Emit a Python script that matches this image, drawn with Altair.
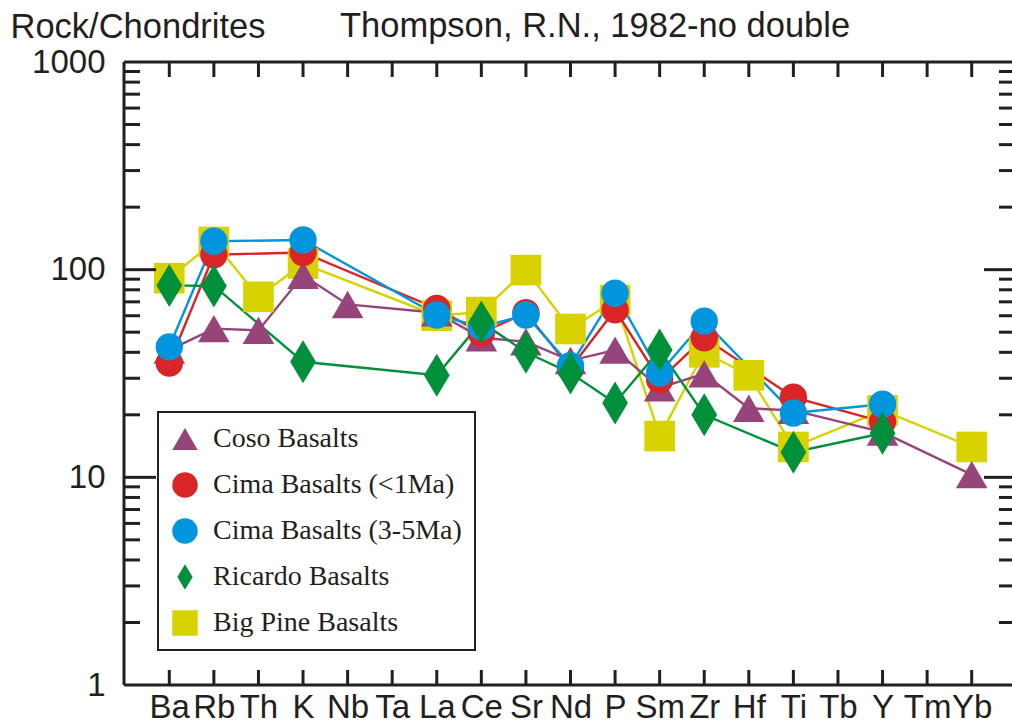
import altair as alt
import pandas as pd

# ---- data -------------------------------------------------------------
elements = ["Ba", "Rb", "Th", "K", "Nb", "Ta", "La", "Ce", "Sr", "Nd",
            "P", "Sm", "Zr", "Hf", "Ti", "Tb", "Y", "Tm", "Yb"]

coso = [41, 52, 51, 94, 68, None, 62, 47, 45, 36.5, 41, 27, 31.5, 21.5, 21, None, 16.5, None, 10.3]
cima_young = [35.5, 118, None, 121, None, None, 65, 49.5, 62, 33.5, 64, 29.5, 47, None, 24.3, None, 18.5, None, None]
cima_old = [42.5, 137, None, 139, None, None, 60.5, 53, 60.5, 34.5, 77, 31.8, 56.5, None, 20.4, None, 22.5, None, None]
ricardo = [84, 83.5, None, 36, None, None, 31, 56, 40, 31.8, 22.8, 41, 20, None, 13.2, None, 16.3, None, None]
big_pine = [91, 136, 74, 107, None, None, 60, 62.5, 99.5, 51.8, 71.4, 15.8, 40, 31, 14, None, 21, None, 14]

series_names = ["Coso Basalts", "Cima Basalts (<1Ma)", "Cima Basalts (3-5Ma)",
                "Ricardo Basalts", "Big Pine Basalts"]
series_values = [coso, cima_young, cima_old, ricardo, big_pine]
colors = ["#96457a", "#da2528", "#0095dd", "#00903c", "#d7d200"]
shapes = ["triangle-up", "circle", "circle", "M0,-1L0.6,0L0,1L-0.6,0Z", "square"]
sizes = [1000, 750, 750, 1849, 940]
draw_order = [4, 0, 1, 2, 3]

y_labels = [1, 10, 100, 1000]
minor_ticks = [2, 3, 4, 5, 6, 7, 8, 9, 20, 30, 40, 50, 60, 70, 80, 90,
               200, 300, 400, 500, 600, 700, 800, 900]
major_ticks = [10, 100]

title_left = "Rock/Chondrites"
title_main = "Thompson, R.N., 1982-no double"

# ---- tables --------------------------------------------------------------
rows = []
for k in draw_order:
    for i, v in enumerate(series_values[k]):
        if v is not None:
            rows.append({"el": elements[i], "i": i, "s": series_names[k], "v": v,
                         "sz": sizes[k]})
df = pd.DataFrame(rows)
df_el = pd.DataFrame({"el": elements})
df_minor = pd.DataFrame({"v": minor_ticks})
df_major = pd.DataFrame({"v": major_ticks})
df_one = pd.DataFrame({"a": [0]})

W, H = 888, 623
INK = "#231f20"
SANS = "Liberation Sans"
SERIF = "Liberation Serif"

xscale = alt.Scale(type="point", domain=elements, range=[45.3, 847.7], padding=0)
yscale = alt.Scale(type="log", domain=[1, 1000])

x_axis = alt.Axis(title=None, domain=False, ticks=False, grid=False, labelAngle=0,
                  labelFontSize=33, labelFont=SANS, labelColor=INK, labelPadding=6,
                  labelOverlap=False)
y_axis = alt.Axis(values=y_labels, format="d", domain=False, ticks=False, grid=False,
                  labelFontSize=33, labelFont=SANS, labelColor=INK, labelPadding=19,
                  labelFlush=False, labelOverlap=False,
                  title=title_left, titleAngle=0, titleX=-114, titleY=-25,
                  titleAlign="left", titleBaseline="alphabetic", titleFontSize=34.5,
                  titleFont=SANS, titleFontWeight="normal", titleColor=INK)


def X():
    return alt.X("el:N", scale=xscale, axis=x_axis)


def Y():
    return alt.Y("v:Q", scale=yscale, axis=y_axis)


legend = alt.Legend(title=None, orient="none", legendX=34, legendY=350)

line_layers = []
for k in draw_order:
    line_layers.append(
        alt.Chart(df).transform_filter(alt.datum.s == series_names[k])
        .mark_line(strokeWidth=2.4, color=colors[k])
        .encode(x=X(), y=Y(), order=alt.Order("i:Q"))
    )

points = alt.Chart(df).mark_point(filled=True, opacity=1, strokeWidth=0).encode(
    x=X(), y=Y(),
    color=alt.Color("s:N", scale=alt.Scale(domain=series_names, range=colors), legend=legend),
    shape=alt.Shape("s:N", scale=alt.Scale(domain=series_names, range=shapes), legend=legend),
    size=alt.Size("sz:Q", scale=None),
)

tick_style = dict(color=INK, strokeWidth=3)
top_ticks = alt.Chart(df_el).mark_rule(**tick_style).encode(
    x=X(), y=alt.value(0), y2=alt.value(15))
bottom_ticks = alt.Chart(df_el).mark_rule(**tick_style).encode(
    x=X(), y=alt.value(H - 15), y2=alt.value(H))
left_minor = alt.Chart(df_minor).mark_rule(**tick_style).encode(
    y=Y(), x=alt.value(0), x2=alt.value(16))
left_major = alt.Chart(df_major).mark_rule(**tick_style).encode(
    y=Y(), x=alt.value(0), x2=alt.value(32))
right_minor = alt.Chart(df_minor).mark_rule(**tick_style).encode(
    y=Y(), x=alt.value(W - 13), x2=alt.value(W))
right_major = alt.Chart(df_major).mark_rule(**tick_style).encode(
    y=Y(), x=alt.value(W - 28), x2=alt.value(W))

frame_left = alt.Chart(df_one).mark_rule(**tick_style).encode(
    x=alt.value(0), y=alt.value(0), y2=alt.value(H))
frame_top = alt.Chart(df_one).mark_rule(**tick_style).encode(
    y=alt.value(0), x=alt.value(0), x2=alt.value(W))
frame_bottom = alt.Chart(df_one).mark_rule(**tick_style).encode(
    y=alt.value(H), x=alt.value(0), x2=alt.value(W))

title_txt = alt.Chart(pd.DataFrame({"t": [title_main]})).mark_text(
    align="left", baseline="alphabetic", fontSize=34.5, font=SANS, color=INK
).encode(text="t:N", x=alt.value(216), y=alt.value(-25))

chart = alt.layer(
    *line_layers, points, top_ticks, bottom_ticks, left_minor, left_major,
    right_minor, right_major, frame_left, frame_top, frame_bottom, title_txt
).properties(
    width=W, height=H,
    autosize=alt.AutoSizeParams(type="none"),
    padding={"left": 124, "top": 62, "right": 0, "bottom": 40},
    background="white",
).configure_view(stroke=None).configure_legend(
    labelFont=SERIF, labelFontSize=28, labelColor=INK, labelLimit=400,
    symbolSize=650, symbolOpacity=1, symbolStrokeWidth=0,
    rowPadding=18, padding=13, labelOffset=14,
    strokeColor=INK, strokeWidth=2, fillColor="white",
)

chart.save("out.html", embed_options={"renderer": "svg", "actions": False})
